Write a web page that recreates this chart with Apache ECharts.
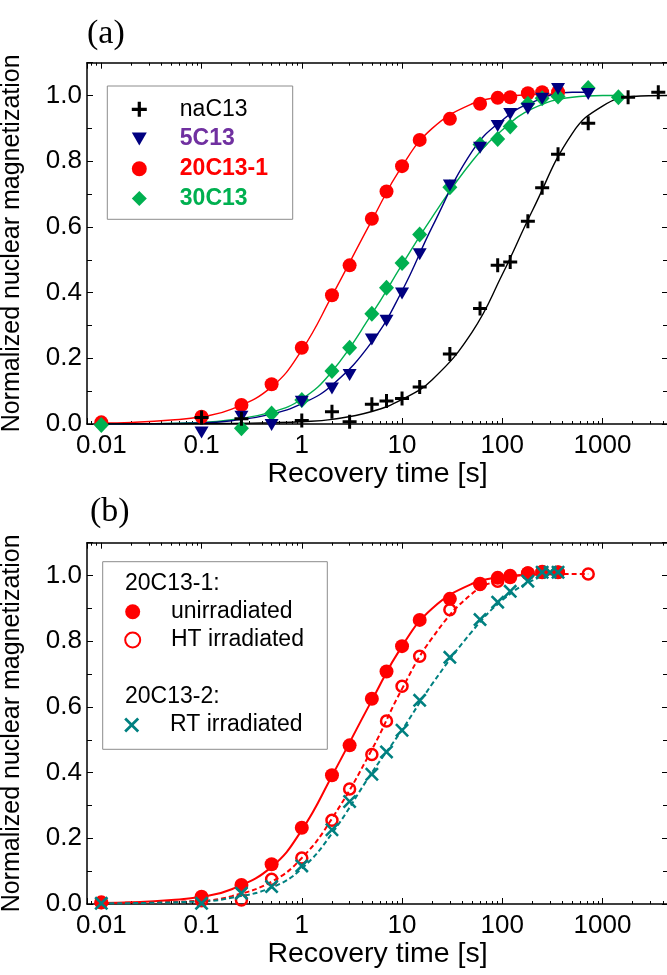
<!DOCTYPE html>
<html><head><meta charset="utf-8">
<script src="https://cdn.jsdelivr.net/npm/echarts@6/dist/echarts.min.js"></script>
<style>html,body{margin:0;padding:0;background:#fff}#c{width:667px;height:975px}</style>
</head><body><div id="c"></div>
<script>
// ---------- tick labels ----------
const xTickLabels = ['0.01','0.1','1','10','100','1000'];
const yTickLabels = ['0.0','0.2','0.4','0.6','0.8','1.0'];

// ---------- panel (a) measured points ----------
const naC13_t = [0.1,0.25,1,2,3,5,7,10,15,30,60,90,120,180,250,360,720,1800,3600];
const naC13_v = [0.02,0.016,0.011,0.037,0.007,0.06,0.07,0.078,0.113,0.213,0.352,0.483,0.493,0.617,0.719,0.821,0.916,0.995,1.01];
const c5C13_t = [0.1,0.25,0.5,1,2,3,5,7,10,15,30,60,90,120,180,250,360,720];
const c5C13_v = [-0.026,0.022,-0.003,0.068,0.108,0.149,0.257,0.314,0.397,0.517,0.726,0.841,0.907,0.944,0.96,0.99,1.02,1.005];
const c20C13_t = [0.01,0.1,0.25,0.5,1,2,3,5,7,10,15,30,60,90,120,180,250,360];
const c20C13_v = [0.005,0.022,0.058,0.121,0.232,0.392,0.483,0.625,0.708,0.785,0.865,0.929,0.975,0.993,0.995,1.007,1.01,1.01];
const c30C13_t = [0.01,0.25,0.5,1,2,3,5,7,10,15,30,60,90,120,180,250,360,720,1440];
const c30C13_v = [-0.003,-0.013,0.032,0.073,0.161,0.232,0.336,0.415,0.49,0.577,0.721,0.851,0.868,0.906,0.975,0.992,0.997,1.023,0.995];

// ---------- panel (a) fit curves ----------
const fitNa_t = [0.01,0.1,0.2,0.5,1,2,5,10,20,50,100,200,500,1000,2000,4500];
const fitNa_v = [0,0.001,0.002,0.004,0.007,0.014,0.038,0.075,0.135,0.28,0.455,0.65,0.885,0.968,0.997,1.0];
const fit20_t = [0.01,0.02,0.05,0.1,0.2,0.5,1,2,5,10,20,50,100,200,360];
const fit20_v = [0.003,0.005,0.012,0.022,0.045,0.113,0.225,0.39,0.62,0.785,0.9,0.975,0.996,1.003,1.005];
const fit5_t = [0.01,0.1,0.2,0.5,1,2,5,10,20,50,100,200,500,720];
const fit5_v = [0,0.003,0.01,0.03,0.062,0.118,0.25,0.405,0.6,0.83,0.925,0.98,1.01,1.01];
const fit30_t = [0.01,0.1,0.2,0.5,1,2,5,10,20,50,100,200,500,1000,1440];
const fit30_v = [0,0.005,0.013,0.036,0.076,0.16,0.335,0.485,0.63,0.8,0.895,0.96,0.995,1.0,1.0];

// ---------- panel (b) measured points ----------
const ht_t = [0.01,0.1,0.25,0.5,1,2,3,5,7,10,15,30,60,90,120,180,250,360,720];
const ht_v = [0.004,0.01,0.012,0.075,0.14,0.255,0.35,0.455,0.557,0.663,0.754,0.896,0.973,0.983,1.0,1.008,1.012,1.01,1.005];
const rt_t = [0.01,0.1,0.25,0.5,1,2,3,5,7,10,15,30,60,90,120,180,250,300,360];
const rt_v = [0.002,0.002,0.033,0.053,0.116,0.226,0.312,0.395,0.463,0.529,0.62,0.751,0.866,0.919,0.952,0.983,1.01,1.01,1.01];

// ---------- panel (b) fit curves ----------
const fitHT_t = [0.01,0.1,0.2,0.5,1,2,5,10,20,50,100,200,720];
const fitHT_v = [0.003,0.01,0.024,0.068,0.14,0.26,0.47,0.655,0.81,0.945,0.988,1.003,1.005];
const fitRT_t = [0.01,0.1,0.2,0.5,1,2,5,10,20,50,100,200,360];
const fitRT_v = [0.002,0.008,0.019,0.05,0.108,0.215,0.4,0.53,0.67,0.83,0.925,0.985,1.008];

// ---------- helpers ----------
const zip = (t, v) => t.map((x, i) => [x, v[i]]);
const FONT = '"Liberation Sans", Arial, sans-serif';
const SERIF = '"Liberation Serif", "Times New Roman", serif';
const X_MIN = 0.0072, X_MAX = 4500;
const RED = '#FF0000', NAVY = '#000080', GREEN = '#00B050', TEAL = '#008080', PURPLE = '#7030A0';
const PLUS = 'path://M5.5,0H8.5V5.5H14V8.5H8.5V14H5.5V8.5H0V5.5H5.5Z';
const CROSS = 'path://M0,1.3L1.3,0L5,3.7L8.7,0L10,1.3L6.3,5L10,8.7L8.7,10L5,6.3L1.3,10L0,8.7L3.7,5Z';
const TRI_DOWN = 'path://M0,0L10,0L5,8.66Z';

function fmtX(v) {
  const l = Math.log10(v), r = Math.round(l);
  if (Math.abs(l - r) < 1e-6 && r >= -2 && r <= 3) return xTickLabels[r + 2];
  return '';
}
function fmtY(v) {
  const i = Math.round(v / 0.2);
  if (Math.abs(v - i * 0.2) < 1e-6 && i >= 0 && i < yTickLabels.length) return yTickLabels[i];
  return '';
}
const lineBlack = {color: '#000', width: 1.5};
function xAx(gi, pos, main) {
  return {
    type: 'log', logBase: 10, gridIndex: gi, position: pos, min: X_MIN, max: X_MAX,
    axisLine: {show: true, onZero: false, lineStyle: lineBlack},
    axisTick: {show: true, inside: true, length: 6, lineStyle: {color: '#000', width: 1}},
    minorTick: {show: true, splitNumber: 9, length: 3, lineStyle: {color: '#000', width: 1}},
    splitLine: {show: false}, minorSplitLine: {show: false},
    axisLabel: main ? {show: true, margin: 9, fontSize: 26, fontFamily: FONT, color: '#000', formatter: fmtX} : {show: false},
    name: main ? 'Recovery time [s]' : '', nameLocation: 'middle', nameGap: 35.5,
    nameTextStyle: {fontSize: 28.5, fontFamily: FONT, color: '#000'}
  };
}
function yAx(gi, pos, main) {
  return {
    type: 'value', gridIndex: gi, position: pos, min: 0, max: 1.1, interval: 0.2,
    axisLine: {show: true, onZero: false, lineStyle: lineBlack},
    axisTick: {show: true, inside: true, length: 6, lineStyle: {color: '#000', width: 1}},
    minorTick: {show: true, splitNumber: 2, length: 5, lineStyle: {color: '#000', width: 1}},
    splitLine: {show: false}, minorSplitLine: {show: false},
    axisLabel: main ? {show: true, margin: 5, fontSize: 26, fontFamily: FONT, color: '#000', formatter: fmtY} : {show: false},
    name: main ? 'Normalized nuclear magnetization' : '', nameLocation: 'middle', nameGap: 62,
    nameTextStyle: {fontSize: 25, fontFamily: FONT, color: '#000'}
  };
}
function fit(name, t, v, color, xi, width, dash) {
  return {type: 'line', name: name, xAxisIndex: xi, yAxisIndex: xi, data: zip(t, v),
    symbol: 'none', showSymbol: false, smooth: 0.45, silent: true, z: 2,
    lineStyle: {color: color, width: width, type: dash ? [5, 3] : 'solid'}};
}
function pts(name, t, v, xi, symbol, size, style) {
  return {type: 'scatter', name: name, xAxisIndex: xi, yAxisIndex: xi, data: zip(t, v),
    symbol: symbol, symbolSize: size, clip: false, silent: true, z: 3,
    itemStyle: Object.assign({opacity: 1}, style)};
}

const chart = echarts.init(document.getElementById('c'), null, {renderer: 'canvas'});
chart.setOption({
  animation: false,
  backgroundColor: '#fff',
  grid: [
    {left: 87, top: 62.7, width: 581, height: 361.3, outerBoundsMode: 'none'},
    {left: 87, top: 542.7, width: 581, height: 361.3, outerBoundsMode: 'none'}
  ],
  xAxis: [xAx(0, 'bottom', true), xAx(0, 'top', false), xAx(1, 'bottom', true), xAx(1, 'top', false)],
  yAxis: [yAx(0, 'left', true), yAx(0, 'right', false), yAx(1, 'left', true), yAx(1, 'right', false)],
  legend: [
    {left: 131.8, top: 97.8, orient: 'vertical', padding: 0, itemGap: 6.7, itemWidth: 15, itemHeight: 15,
     selectedMode: false,
     textStyle: {fontSize: 23, fontFamily: FONT, lineHeight: 23, color: '#000', padding: [0, 0, 0, 28]},
     data: [
       {name: 'naC13', textStyle: {color: '#000'}},
       {name: '5C13', textStyle: {color: PURPLE, fontWeight: 'bold'}},
       {name: '20C13-1', textStyle: {color: RED, fontWeight: 'bold'}},
       {name: '30C13', textStyle: {color: GREEN, fontWeight: 'bold'}}
     ]},
    {left: 124.2, top: 600.2, orient: 'vertical', padding: 0, itemGap: 5.3, itemWidth: 15, itemHeight: 15,
     selectedMode: false,
     textStyle: {fontSize: 23, fontFamily: FONT, lineHeight: 23, color: '#000', padding: [0, 0, 0, 25.8]},
     data: ['unirradiated', 'HT irradiated']},
    {left: 124.2, top: 713.5, orient: 'vertical', padding: 0, itemWidth: 15, itemHeight: 15,
     selectedMode: false,
     textStyle: {fontSize: 23, fontFamily: FONT, lineHeight: 23, color: '#000', padding: [0, 0, 0, 25.8]},
     data: ['RT irradiated']}
  ],
  graphic: [
    {type: 'rect', z: 1, shape: {x: 107.3, y: 86, width: 185.4, height: 133.3},
     style: {fill: 'rgba(0,0,0,0)', stroke: '#8c8c8c', lineWidth: 1}},
    {type: 'rect', z: 1, shape: {x: 102.7, y: 561.7, width: 224.6, height: 187.6},
     style: {fill: 'rgba(0,0,0,0)', stroke: '#8c8c8c', lineWidth: 1}},
    {type: 'text', z: 5, style: {text: '(a)', x: 87, y: 34, verticalAlign: 'middle', font: '34px ' + SERIF, fill: '#000'}},
    {type: 'text', z: 5, style: {text: '(b)', x: 90, y: 512, verticalAlign: 'middle', font: '34px ' + SERIF, fill: '#000'}},
    {type: 'text', z: 5, style: {text: '20C13-1:', x: 125, y: 583.3, verticalAlign: 'middle', font: '23px ' + FONT, fill: '#000'}},
    {type: 'text', z: 5, style: {text: '20C13-2:', x: 125, y: 696.7, verticalAlign: 'middle', font: '23px ' + FONT, fill: '#000'}}
  ],
  series: [
    // panel (a) curves
    fit('fit 20C13-1 a', fit20_t, fit20_v, RED, 0, 1.4, false),
    fit('fit 30C13', fit30_t, fit30_v, GREEN, 0, 1.4, false),
    fit('fit 5C13', fit5_t, fit5_v, NAVY, 0, 1.4, false),
    fit('fit naC13', fitNa_t, fitNa_v, '#000', 0, 1.4, false),
    // panel (a) points
    pts('20C13-1', c20C13_t, c20C13_v, 0, 'circle', 14, {color: RED}),
    pts('30C13', c30C13_t, c30C13_v, 0, 'diamond', [15, 16], {color: GREEN}),
    pts('5C13', c5C13_t, c5C13_v, 0, TRI_DOWN, [14, 12], {color: NAVY}),
    pts('naC13', naC13_t, naC13_v, 0, PLUS, 14, {color: '#000'}),
    // panel (b) curves
    fit('fit unirr', fit20_t, fit20_v, RED, 2, 2, false),
    fit('fit HT', fitHT_t, fitHT_v, RED, 2, 2, true),
    fit('fit RT', fitRT_t, fitRT_v, TEAL, 2, 2, true),
    // panel (b) points
    pts('unirradiated', c20C13_t, c20C13_v, 2, 'circle', 14, {color: RED}),
    pts('HT irradiated', ht_t, ht_v, 2, 'circle', 11, {color: 'rgba(255,255,255,0)', borderColor: RED, borderWidth: 2.5}),
    pts('RT irradiated', rt_t, rt_v, 2, CROSS, 14, {color: TEAL})
  ]
});
</script>
</body></html>
